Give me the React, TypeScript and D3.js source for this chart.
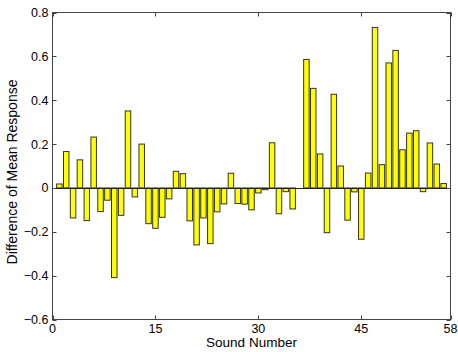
import React, { useEffect, useRef } from 'react';
import * as d3 from 'd3';

// difference of mean response for sounds 1..57
const soundNumbers = d3.range(1, 58);
const diffValues = [
  0.018, 0.166, -0.137, 0.128, -0.149, 0.232, -0.108, -0.056, -0.409, -0.125,
  0.351, -0.041, 0.2, -0.163, -0.184, -0.134, -0.05, 0.076, 0.065, -0.15,
  -0.26, -0.137, -0.254, -0.109, -0.073, 0.067, -0.071, -0.074, -0.1, -0.023,
  -0.008, 0.206, -0.118, -0.017, -0.096, 0, 0.586, 0.454, 0.155, -0.204,
  0.427, 0.1, -0.147, -0.018, -0.234, 0.068, 0.732, 0.106, 0.57, 0.627,
  0.174, 0.25, 0.261, -0.017, 0.205, 0.109, 0.02,
];
const xTicks = [0, 15, 30, 45, 58];
const yTicks = [-0.6, -0.4, -0.2, 0, 0.2, 0.4, 0.6, 0.8];

const App: React.FC = () => {
  const svgRef = useRef<SVGSVGElement>(null);

  useEffect(() => {
    if (!svgRef.current) return;
    const W = 458, H = 352;
    const left = 52.5, right = 450.5, top = 12.5, bottom = 319.5;
    const font = '"Liberation Sans", Arial, sans-serif';
    const axisColor = '#444';

    const svg = d3.select(svgRef.current);
    svg.selectAll('*').remove();
    svg.attr('width', W).attr('height', H);

    svg.append('rect').attr('width', W).attr('height', H).attr('fill', '#fff');

    const x = d3.scaleLinear().domain([0, 58]).range([left, right]);
    const y = d3.scaleLinear().domain([-0.6, 0.8]).range([bottom, top]);
    const barW = x(0.8) - x(0);

    const data = soundNumbers.map((n, i) => ({ n, v: diffValues[i] }));

    // bars
    svg.append('g')
      .selectAll('rect')
      .data(data)
      .enter()
      .append('rect')
      .attr('x', d => x(d.n) - barW / 2)
      .attr('y', d => y(Math.max(0, d.v)))
      .attr('width', barW)
      .attr('height', d => Math.abs(y(d.v) - y(0)))
      .attr('fill', '#ffff00')
      .attr('stroke', '#333')
      .attr('stroke-width', 1);

    // zero baseline
    svg.append('line')
      .attr('x1', left).attr('x2', right)
      .attr('y1', Math.round(y(0)) + 0.5).attr('y2', Math.round(y(0)) + 0.5)
      .attr('stroke', '#222');

    // box
    svg.append('rect')
      .attr('x', left).attr('y', top)
      .attr('width', right - left).attr('height', bottom - top)
      .attr('fill', 'none').attr('stroke', axisColor);

    const tl = 4;
    const ticks = svg.append('g').attr('stroke', axisColor);
    xTicks.forEach(t => {
      const px = Math.round(x(t)) + 0.5;
      ticks.append('line').attr('x1', px).attr('x2', px).attr('y1', bottom).attr('y2', bottom - tl);
      ticks.append('line').attr('x1', px).attr('x2', px).attr('y1', top).attr('y2', top + tl);
    });
    yTicks.forEach(t => {
      const py = Math.round(y(t)) + 0.5;
      ticks.append('line').attr('x1', left).attr('x2', left + tl).attr('y1', py).attr('y2', py);
      ticks.append('line').attr('x1', right).attr('x2', right - tl).attr('y1', py).attr('y2', py);
    });

    // tick labels
    svg.append('g')
      .selectAll('text')
      .data(xTicks)
      .enter()
      .append('text')
      .attr('x', d => x(d))
      .attr('y', bottom + 13.5)
      .attr('text-anchor', 'middle')
      .style('font-family', font)
      .style('font-size', '12.5px')
      .attr('fill', '#000')
      .text(d => String(d));

    svg.append('g')
      .selectAll('text')
      .data(yTicks)
      .enter()
      .append('text')
      .attr('x', left - 4)
      .attr('y', d => y(d) + 4.5)
      .attr('text-anchor', 'end')
      .style('font-family', font)
      .style('font-size', '12.5px')
      .attr('fill', '#000')
      .text(d => (d === 0 ? '0' : d3.format('.1f')(d)));

    // axis titles
    svg.append('text')
      .attr('x', (left + right) / 2)
      .attr('y', 347)
      .attr('text-anchor', 'middle')
      .style('font-family', font)
      .style('font-size', '13.5px')
      .text('Sound Number');

    svg.append('text')
      .attr('transform', `translate(17,172) rotate(-90)`)
      .attr('text-anchor', 'middle')
      .style('font-family', font)
      .style('font-size', '14px')
      .text('Difference of Mean Response');
  }, []);

  return (
    <div style={{ position: 'absolute', left: 0, top: 0 }}>
      <svg ref={svgRef} style={{ display: 'block' }}></svg>
    </div>
  );
};

export default App;
